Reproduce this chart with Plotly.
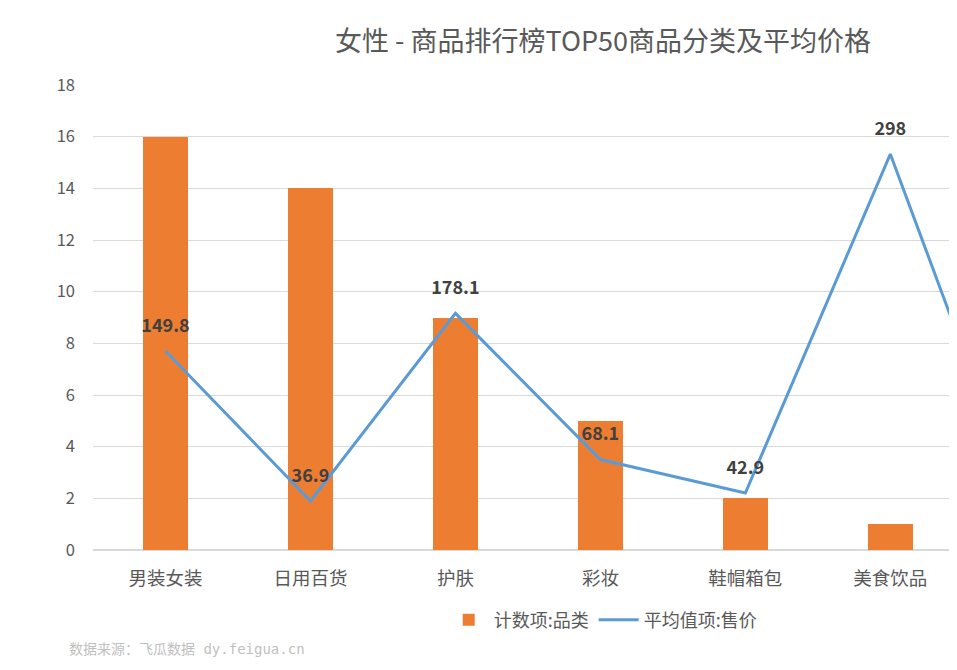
import plotly.graph_objects as go

categories = ["男装女装", "日用百货", "护肤", "彩妆", "鞋帽箱包", "美食饮品", "其他"]
count_values = [16, 14, 9, 5, 2, 1, 1]
avg_price = [149.8, 36.9, 178.1, 68.1, 42.9, 298, 4.5]
price_labels = ["149.8", "36.9", "178.1", "68.1", "42.9", "298", ""]
y_ticks = [0, 2, 4, 6, 8, 10, 12, 14, 16, 18]

FONT = "Noto Sans CJK SC"
GREY = "#595959"
OFF = 8  # page body margin compensation

W, H = 957 - OFF, 670 - 2 * OFF
left, top, bottom_px, right_px = 92.5 - OFF, 85 - OFF, 550 - OFF, W
plot_w = right_px - left
plot_h = bottom_px - top

fig = go.Figure()
fig.add_trace(go.Bar(
    x=categories, y=count_values, name="计数项:品类",
    marker=dict(color="#ED7D31", line=dict(width=0)),
    width=0.31, yaxis="y",
))
fig.add_trace(go.Scatter(
    x=categories, y=avg_price, name="平均值项:售价",
    mode="lines+markers+text", text=price_labels, textposition="top center",
    marker=dict(size=22, color="rgba(0,0,0,0)"),
    textfont=dict(family=FONT, size=18, color="#404040", weight="bold"),
    line=dict(color="#5B9BD5", width=3), yaxis="y2", cliponaxis=False,
))

fig.update_layout(
    width=W, height=H,
    margin=dict(l=left, r=W - right_px, t=top, b=H - bottom_px),
    paper_bgcolor="white", plot_bgcolor="white",
    font=dict(family=FONT, color=GREY),
    title=dict(text="女性 - 商品排行榜TOP50商品分类及平均价格",
               font=dict(family=FONT, size=27, color=GREY),
               x=(603 - OFF) / W, xanchor="center", xref="container",
               y=1 - (42 - OFF) / H, yanchor="middle", yref="container"),
    xaxis=dict(range=[-0.5, 5.46], showgrid=False, showline=False,
               tickfont=dict(size=18.5, color=GREY), ticks="", ticklabelstandoff=15),
    yaxis=dict(range=[0, 18], tickvals=y_ticks, showgrid=True,
               gridcolor="#D9D9D9", gridwidth=1, zeroline=True,
               zerolinecolor="#D9D9D9", zerolinewidth=1.5,
               tickfont=dict(size=16.5, color=GREY), ticks="", ticklabelstandoff=17),
    yaxis2=dict(range=[0, 350], overlaying="y", side="right", visible=False),
    legend=dict(orientation="h", x=(603 - OFF - left) / plot_w, xanchor="center",
                y=(bottom_px - (620 - OFF)) / plot_h, yanchor="middle",
                font=dict(size=18, color=GREY), itemwidth=40, traceorder="normal"),
    showlegend=True,
    bargap=0,
)

fig.add_annotation(text="数据来源：飞瓜数据 dy.feigua.cn", xref="paper", yref="paper",
                   x=(66 - OFF - left) / plot_w, xanchor="left",
                   y=(bottom_px - (649 - OFF)) / plot_h, yanchor="middle",
                   showarrow=False, font=dict(family="DejaVu Sans Mono, " + FONT, size=14, color="#BFBFBF"))

fig.write_html("out.html")
